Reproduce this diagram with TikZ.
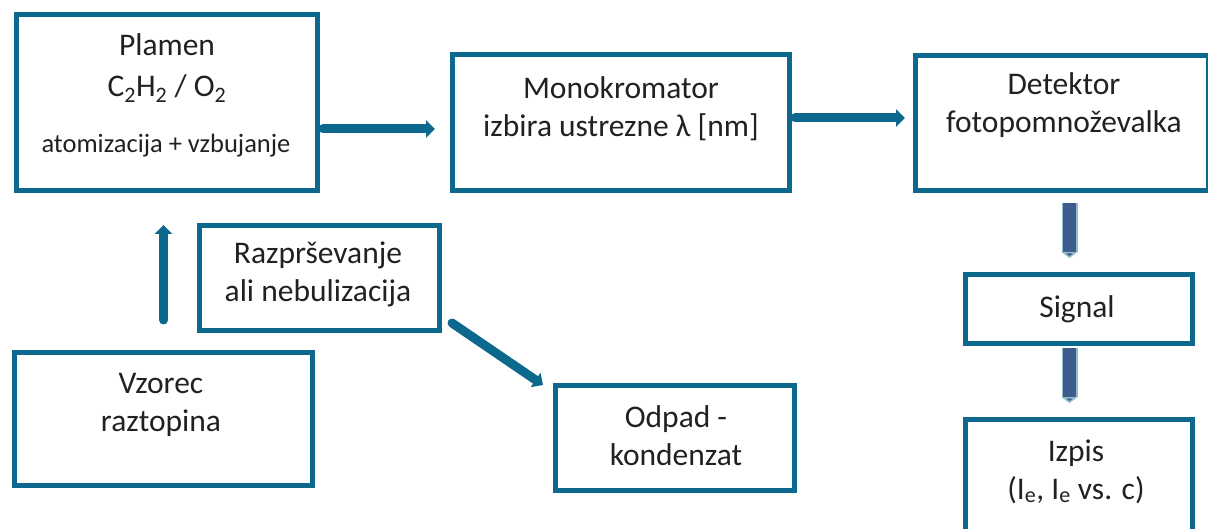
\documentclass[tikz,border=0pt]{standalone}
\usepackage{fontspec}
\setmainfont{Carlito}
\usepackage{tikz}
\usetikzlibrary{positioning,calc,arrows.meta}
\definecolor{petrol}{RGB}{12,104,140}
\definecolor{bleu}{RGB}{62,92,140}
\definecolor{encre}{RGB}{33,33,33}
\tikzset{
	boite/.style={draw=petrol,line width=5pt,rectangle,inner sep=0pt},
	texte/.style={text=encre,align=center,inner sep=0pt,anchor=base,font=\fontsize{31.5}{38}\selectfont},
	petit/.style={texte,font=\fontsize{26.5}{32}\selectfont},
	fleche/.style={draw=petrol,line width=9pt,line cap=round,-{Triangle[width=17pt,length=9pt]}},
	bloc/.style={draw=petrol!45,line width=1.5pt,double=bleu,double distance=13pt,-{Triangle[width=16pt,length=6pt,fill=bleu]}}
}

\begin{document}
\begin{tikzpicture}[x=1pt,y=-1pt]
	
	\useasboundingbox (0,0) rectangle (1208,529);
	\clip (0,0) rectangle (1208,529); % coupe la boite du detecteur
	
	%Boites
	\node[boite,minimum width=301pt,minimum height=176pt] (plamen) at (167,102.5) {};
	\node[boite,minimum width=337pt,minimum height=136pt] (mono) at (621,122.5) {};
	\node[boite,minimum width=293pt,minimum height=135pt] (det) at (1062,123) {};
	\node[boite,minimum width=240pt,minimum height=105pt] (razpr) at (319.5,278) {};
	\node[boite,minimum width=298pt,minimum height=133pt] (vzorec) at (163.5,419) {};
	\node[boite,minimum width=239pt,minimum height=105pt] (odpad) at (675,438) {};
	\node[boite,minimum width=227pt,minimum height=69pt] (signal) at (1079,309) {};
	\node[boite,minimum width=227pt,minimum height=150pt] (izpis) at (1079,494.5) {};
	
	%Textes (base = derniere ligne)
	\node[texte,font=\fontsize{31.5}{41}\selectfont] (plamenT) at (167,97) {Plamen\\C\textsubscript{2}H\textsubscript{2} / O\textsubscript{2}};
	\node[petit] (plamenS) at (166,153) {atomizacija + vzbujanje};
	\node[texte] (monoT) at (621,137) {Monokromator\\izbira ustrezne λ [nm]};
	\node[texte] (detT) at (1064,133) {Detektor\\fotopomnoževalka};
	\node[texte] (razprT) at (318,302) {Razprševanje\\ali nebulizacija};
	\node[texte] (vzorecT) at (161,431) {Vzorec\\raztopina};
	\node[texte] (odpadT) at (676,465) {Odpad -\\kondenzat};
	\node[texte] (signalT) at (1077,318) {Signal};
	\node[texte] (izpisT) at (1076,499) {Izpis\\(I\textsubscript{e}, I\textsubscript{e} vs. c)};
	
	%Fleches
	\draw[fleche] ([xshift=3pt,yshift=-26.5pt]plamen.east) -- ([xshift=-15pt,yshift=-6.5pt]mono.west);
	\draw[fleche] ([xshift=3pt,yshift=4.5pt]mono.east) -- ([xshift=-8pt,yshift=5pt]det.west);
	\draw[fleche] ([yshift=30pt]vzorec.north) -- ([xshift=-3.5pt,yshift=-32pt]plamen.south);
	\draw[fleche] ([xshift=10pt,yshift=10pt]razpr.south east) -- ([xshift=-10pt,yshift=-2pt]odpad.north west);
	
	%Fleches doubles
	\draw[bloc] ([xshift=7.5pt,yshift=-10pt]det.south) -- ([xshift=-9.5pt,yshift=14pt]signal.north);
	\draw[bloc] ([xshift=-9.5pt,yshift=-2pt]signal.south) -- ([xshift=-9.5pt,yshift=14pt]izpis.north);
	
\end{tikzpicture}
\end{document}
